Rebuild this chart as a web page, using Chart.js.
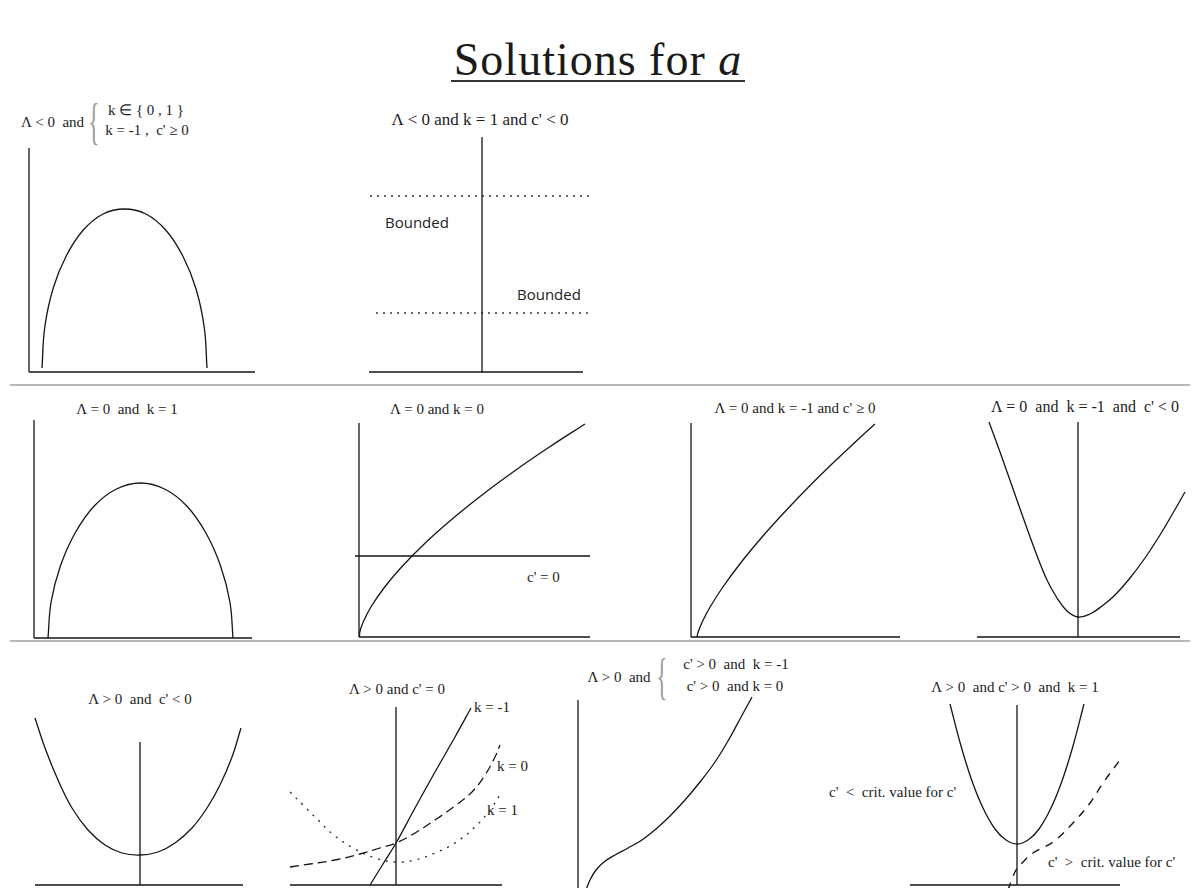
<!DOCTYPE html>
<html>
<head>
<meta charset="utf-8">
<script src="https://cdn.jsdelivr.net/npm/chart.js@4.4.1/dist/chart.umd.min.js"></script>
<style>
  body { margin: 0; background: #fff; }
  #page { position: relative; width: 1197px; height: 888px; overflow: hidden; background: #fff;
          font-family: "Liberation Serif", "Times New Roman", serif; color: #1c1c1c; }
  canvas { position: absolute; }
  .t { position: absolute; white-space: pre; font-size: 15px; transform: translate(-50%, -50%); line-height: 1; }
  .l { position: absolute; white-space: pre; font-size: 15px; transform: translateY(-50%); line-height: 1; }
  .sans { font-family: "Open Sans", "Noto Sans", sans-serif; font-size: 15px; color: #222; }
  .sep { position: absolute; left: 10px; width: 1180px; height: 2px; background: #b8b8b8; }
  .brace { position: absolute; font-size: 50px; line-height: 1; color: #9a9a9a; transform: translate(-50%, -50%) scaleX(0.45); }
  #head { position: absolute; left: 598px; top: 60px; transform: translate(-50%, -50%); font-size: 46px;
          letter-spacing: 1px; white-space: pre; line-height: 1; color: #1a1a1a; }
  #rule { position: absolute; left: 451px; top: 80px; width: 294px; height: 2px; background: #333; }
</style>
</head>
<body>
<div id="page">
  <div id="head">Solutions for <i>a</i></div>
  <div id="rule"></div>
  <div class="sep" style="top:384px"></div>
  <div class="sep" style="top:640px"></div>

  <!-- row 1 -->
  <div class="l" style="left:21px; top:122px">Λ &lt; 0  and</div>
  <div class="brace" style="left:94px; top:121px">{</div>
  <div class="t" style="left:146px; top:110px">k ∈ { 0 , 1 }</div>
  <div class="t" style="left:147px; top:130px">k = -1 ,  c' ≥ 0</div>

  <div class="t" style="left:480px; top:119px; font-size:17px">Λ &lt; 0 and k = 1 and c' &lt; 0</div>
  <div class="l sans" style="left:385px; top:222px">Bounded</div>
  <div class="l sans" style="left:517px; top:294px">Bounded</div>

  <!-- row 2 -->
  <div class="t" style="left:127px; top:409px">Λ = 0  and  k = 1</div>
  <div class="t" style="left:437px; top:409px">Λ = 0 and k = 0</div>
  <div class="l" style="left:527px; top:577px">c' = 0</div>
  <div class="t" style="left:795px; top:408px">Λ = 0 and k = -1 and c' ≥ 0</div>
  <div class="t" style="left:1085px; top:407px; font-size:16px">Λ = 0  and  k = -1  and  c' &lt; 0</div>

  <!-- row 3 -->
  <div class="t" style="left:140px; top:699px">Λ &gt; 0  and  c' &lt; 0</div>
  <div class="t" style="left:397px; top:689px">Λ &gt; 0 and c' = 0</div>
  <div class="l" style="left:474px; top:707px">k = -1</div>
  <div class="l" style="left:497px; top:766px">k = 0</div>
  <div class="l" style="left:487px; top:810px">k = 1</div>

  <div class="t" style="left:619px; top:677px">Λ &gt; 0  and</div>
  <div class="brace" style="left:662px; top:676px">{</div>
  <div class="t" style="left:736px; top:664px">c' &gt; 0  and  k = -1</div>
  <div class="t" style="left:735px; top:686px">c' &gt; 0  and k = 0</div>

  <div class="t" style="left:1015px; top:687px">Λ &gt; 0  and c' &gt; 0  and  k = 1</div>
  <div class="l" style="left:829px; top:792px">c'  &lt;  crit. value for c'</div>
  <div class="l" style="left:1048px; top:862px">c'  &gt;  crit. value for c'</div>
</div>

<script>
// values, one unit is roughly 10 px,
// (0,0) sits at the corner where each panel's axes meet

// Λ < 0, k ∈ {0,1}
const axisA_x = [[0, 0], [22.6, 0]];
const axisA_y = [[0, 0], [0, 22.4]];
const arcA = [[1.3, 0.4], [1.58, 4.5], [2.41, 8.35], [3.72, 11.6], [5.43, 14.2], [7.41, 15.8], [9.55, 16.3],
              [11.69, 15.8], [13.67, 14.2], [15.38, 11.6], [16.69, 8.35], [17.52, 4.5], [17.8, 0.4]];

// Λ < 0, k = 1, c' < 0
const axisB_x = [[0, 0], [21.4, 0]];
const axisB_y = [[11.3, 0], [11.3, 23.5]];
const boundB_hi = [[0.1, 17.6], [22.1, 17.6]];
const boundB_lo = [[0.7, 5.9], [22.1, 5.9]];

// Λ = 0, k = 1
const axisC_x = [[0, 0], [21.8, 0]];
const axisC_y = [[0, 0], [0, 21.8]];
const arcC = [[1.4, 0], [1.71, 3.6], [2.64, 7.2], [4.11, 10.5], [6.02, 13.2], [8.25, 14.9], [10.65, 15.5],
              [13.05, 14.9], [15.28, 13.2], [17.19, 10.5], [18.66, 7.2], [19.59, 3.6], [19.9, 0]];

// Λ = 0, k = 0
const axisD_x = [[0, 0], [23.1, 0]];
const axisD_y = [[0, 0], [0, 21.4]];
const zeroD = [[-0.4, 8.1], [23.1, 8.1]];
const curveD = [[0.05, 0], [0.08, 0.5], [0.42, 1.5], [1.19, 3.0], [2.57, 5.0], [4.26, 7.0], [6.73, 9.5], [9.56, 12.0],
                [12.69, 14.5], [16.11, 17.0], [19.04, 19.0], [22.6, 21.3]];

// Λ = 0, k = -1, c' ≥ 0
const axisE_x = [[0, 0], [20.9, 0]];
const axisE_y = [[0, 0], [0, 21.4]];
const curveE = [[0.6, 0], [0.72, 0.5], [1.12, 1.5], [1.91, 3.0], [3.19, 5.0], [5.04, 7.5], [7.11, 10.0], [9.36, 12.5],
                [11.76, 15.0], [14.3, 17.5], [16.43, 19.5], [18.4, 21.3]];

// Λ = 0, k = -1, c' < 0
const axisF_x = [[0, 0], [20.3, 0]];
const axisF_y = [[10.1, 0], [10.1, 21.5]];
const curveF = [[1.2, 21.5], [2.3, 18.5], [3.5, 15.1], [4.7, 11.7], [5.9, 8.4], [7.0, 5.7], [8.0, 3.9], [9.0, 2.6],
                [10.1, 2.0], [11.3, 2.3], [12.5, 3.1], [13.8, 4.2], [15.3, 5.9], [16.8, 7.9], [18.3, 10.2], [19.6, 12.4],
                [20.8, 14.5]];

// Λ > 0, c' < 0
const axisG_x = [[0, 0], [20.8, 0]];
const axisG_y = [[10.5, 0], [10.5, 14.3]];
const curveG = [[0, 16.7], [1.0, 13.7], [2.3, 10.5], [3.7, 7.7], [5.3, 5.5], [7.0, 4.0], [8.7, 3.2], [10.5, 3.0], [12.3, 3.3],
                [14.0, 4.2], [15.7, 5.7], [17.2, 7.7], [18.5, 10.0], [19.7, 12.8], [20.6, 15.7]];

// Λ > 0, c' = 0 : k = -1, 0, 1
const axisH_x = [[0, 0], [21.2, 0]];
const axisH_y = [[10.6, 0], [10.6, 17.8]];
const kMinus1H = [[8.0, 0], [9.3, 2.1], [10.6, 4.2], [12.5, 7.7], [14.5, 11.3], [16.5, 14.8], [18.1, 17.7]];
const kZeroH = [[0, 1.8], [2.0, 2.1], [4.5, 2.5], [7.0, 3.1], [9.0, 3.7], [10.6, 4.2], [12.5, 5.2], [14.5, 6.5], [16.5, 7.9],
                [18.2, 9.3], [19.5, 11.0], [20.5, 12.8], [21.0, 14.0]];
const kOneH = [[0, 9.3], [1.3, 8.0], [2.8, 6.5], [4.5, 4.9], [6.5, 3.6], [8.5, 2.7], [10.5, 2.3], [12.5, 2.5], [14.5, 3.2],
               [16.5, 4.2], [18.5, 5.8], [20.0, 7.5], [21.0, 9.0]];

// Λ > 0, c' > 0, k ∈ {-1, 0}
const axisI_y = [[0, -1], [0, 18.5]];
const curveI = [[0.8, -0.5], [1.2, 0.5], [1.8, 1.5], [2.6, 2.3], [3.7, 3.0], [5.0, 3.7], [6.4, 4.5], [7.8, 5.6], [9.2, 6.9],
                [10.7, 8.5], [12.2, 10.3], [13.7, 12.3], [15.0, 14.4], [16.2, 16.6], [17.4, 18.8]];

// Λ > 0, c' > 0, k = 1 : below / above the critical c'
const axisJ_x = [[0, 0], [21.0, 0]];
const axisJ_y = [[10.7, 0], [10.7, 18.0]];
const belowCritJ = [[4.0, 18.1], [5.1, 13.9], [6.2, 10.4], [7.3, 7.7], [8.5, 5.6], [9.6, 4.5], [10.7, 4.1], [11.8, 4.5],
                    [12.9, 5.6], [14.1, 7.7], [15.2, 10.4], [16.3, 13.9], [17.4, 18.1]];
const aboveCritJ = [[9.8, -0.5], [10.2, 0.6], [10.6, 1.5], [11.2, 2.2], [12.3, 3.2], [14.3, 4.3], [16.3, 6.2], [18.0, 8.2],
                    [19.3, 10.2], [21.0, 12.5]];

const ink = '#151515';
const plain = { borderColor: ink, borderWidth: 1.3 };
const dashed = { borderColor: ink, borderWidth: 1.3, borderDash: [9, 5] };
const dashedShort = { borderColor: ink, borderWidth: 1.4, borderDash: [8, 7] };
const dotted = { borderColor: '#333', borderWidth: 1.3, borderDash: [2, 5] };
const dottedWide = { borderColor: '#333', borderWidth: 1.4, borderDash: [2, 6] };

function lineSet(points, style, tension) {
    return Object.assign({
        data: points.map(p => ({ x: p[0], y: p[1] })),
        showLine: true,
        pointRadius: 0,
        fill: false,
        tension: tension || 0
    }, style || plain);
}

const panels = [
    { ox: 29, oy: 372, sets: [lineSet(axisA_x), lineSet(axisA_y), lineSet(arcA, plain, 0.4)] },
    { ox: 369, oy: 372, sets: [lineSet(axisB_x), lineSet(axisB_y), lineSet(boundB_hi, dotted), lineSet(boundB_lo, dotted)] },
    { ox: 34, oy: 638, sets: [lineSet(axisC_x), lineSet(axisC_y), lineSet(arcC, plain, 0.4)] },
    { ox: 359, oy: 637, sets: [lineSet(axisD_x), lineSet(axisD_y), lineSet(zeroD), lineSet(curveD, plain, 0.4)] },
    { ox: 691, oy: 637, sets: [lineSet(axisE_x), lineSet(axisE_y), lineSet(curveE, plain, 0.4)] },
    { ox: 977, oy: 637, sets: [lineSet(axisF_x), lineSet(axisF_y), lineSet(curveF, plain, 0.4)] },
    { ox: 35, oy: 885, sets: [lineSet(axisG_x), lineSet(axisG_y), lineSet(curveG, plain, 0.4)] },
    { ox: 290, oy: 885, sets: [lineSet(axisH_x), lineSet(axisH_y), lineSet(kMinus1H, plain, 0.4),
                               lineSet(kZeroH, dashed, 0.4), lineSet(kOneH, dottedWide, 0.4)] },
    { ox: 578, oy: 885, sets: [lineSet(axisI_y), lineSet(curveI, plain, 0.4)] },
    { ox: 910, oy: 885, sets: [lineSet(axisJ_x), lineSet(axisJ_y), lineSet(belowCritJ, plain, 0.4),
                               lineSet(aboveCritJ, dashedShort, 0.4)] }
];

const page = document.getElementById('page');
panels.forEach(p => {
    const cv = document.createElement('canvas');
    cv.width = 300;
    cv.height = 270;
    cv.style.left = (p.ox - 20) + 'px';
    cv.style.top = (p.oy - 250) + 'px';
    page.appendChild(cv);
    new Chart(cv, {
        type: 'scatter',
        data: { datasets: p.sets },
        options: {
            responsive: false,
            animation: false,
            events: [],
            devicePixelRatio: 1,
            layout: { padding: 0 },
            plugins: { legend: { display: false }, tooltip: { enabled: false } },
            scales: {
                x: { type: 'linear', display: false, min: -2, max: 28 },
                y: { type: 'linear', display: false, min: -2, max: 25 }
            }
        }
    });
});
</script>
</body>
</html>
